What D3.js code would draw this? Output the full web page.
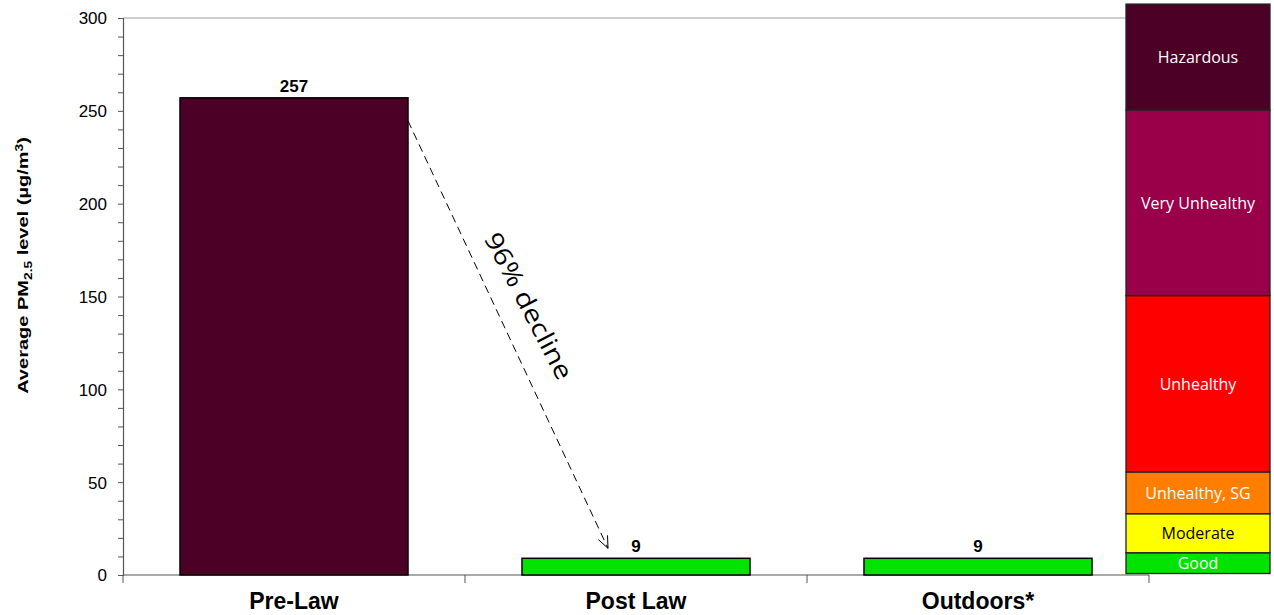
<!DOCTYPE html>
<html><head><meta charset="utf-8">
<script src="https://cdn.jsdelivr.net/npm/d3@7"></script>
<style>body{margin:0;background:#fff}svg{display:block}</style>
</head><body>
<svg id="c" width="1274" height="615"></svg>
<script>
const categories = ["Pre-Law", "Post Law", "Outdoors*"];
const values = [257, 9, 9];
const barColors = ["#4c0026", "#00e400", "#00e400"];
const yTicks = [0, 50, 100, 150, 200, 250, 300];
const aqiNames = ["Good", "Moderate", "Unhealthy, SG", "Unhealthy", "Very Unhealthy", "Hazardous"];
const aqiLow = [0.8, 12, 33, 55.5, 150.5, 250.5];
const aqiHigh = [12, 33, 55.5, 150.5, 250.5, 307.5];
const aqiColors = ["#00e400", "#ffff00", "#ff7e00", "#ff0000", "#990049", "#4c0026"];
const aqiText = ["#fff", "#000", "#fff", "#fff", "#fff", "#fff"];
const annotation = "96% decline";

const svg = d3.select("#c");
const pLeft = 123, pRight = 1149, pTop = 18, pBottom = 575;
const x = d3.scaleBand().domain(categories).range([pLeft, pRight]).paddingInner(1/3).paddingOuter(1/6);
const y = d3.scaleLinear().domain([0, 300]).range([pBottom, pTop]);

// top border
svg.append("line").attr("x1", pLeft).attr("x2", 1126).attr("y1", pTop).attr("y2", pTop)
  .attr("stroke", "#a0a0a0").attr("stroke-width", 1.2);

// y axis
const yAxis = svg.append("g").attr("transform", `translate(${pLeft},0)`)
  .call(d3.axisLeft(y).tickValues(d3.range(0, 301, 10)).tickSize(5).tickFormat(d => yTicks.includes(d) ? d : ""));
yAxis.select(".domain").attr("stroke", "#555").attr("stroke-width", 1.2);
yAxis.selectAll(".tick line").attr("stroke", "#555");
yAxis.selectAll("text").attr("font-family", "Liberation Sans, Arial, sans-serif").attr("font-size", 17)
  .attr("fill", "#000").attr("x", -16).attr("dy", "0.35em");

// x axis
const xAxis = svg.append("g").attr("transform", `translate(0,${pBottom})`);
xAxis.append("line").attr("x1", pLeft).attr("x2", pRight).attr("stroke", "#555").attr("stroke-width", 1.2);
const bounds = [0, 1, 2, 3].map(i => pLeft + i * x.step());
xAxis.selectAll(".xt").data(bounds).join("line").attr("class", "xt")
  .attr("x1", d => d).attr("x2", d => d).attr("y1", 0).attr("y2", 8).attr("stroke", "#555");
xAxis.selectAll(".xl").data(categories).join("text").attr("class", "xl")
  .attr("x", d => x(d) + x.bandwidth() / 2).attr("y", 34).attr("text-anchor", "middle")
  .attr("font-family", "Liberation Sans, Arial, sans-serif").attr("font-weight", "bold").attr("font-size", 23)
  .text(d => d);

// bars
svg.selectAll(".bar").data(values).join("rect").attr("class", "bar")
  .attr("x", (d, i) => x(categories[i])).attr("width", x.bandwidth())
  .attr("y", d => y(d)).attr("height", d => y(0) - y(d))
  .attr("fill", (d, i) => barColors[i]).attr("stroke", "#000").attr("stroke-width", 1.5);
svg.selectAll(".bl").data(values).join("text").attr("class", "bl")
  .attr("x", (d, i) => x(categories[i]) + x.bandwidth() / 2).attr("y", d => y(d) - 6)
  .attr("text-anchor", "middle").attr("font-family", "Liberation Sans, Arial, sans-serif")
  .attr("font-weight", "bold").attr("font-size", 17).text(d => d);

// y label (stretched along its length like the reference)
svg.append("text").attr("transform", `translate(28,265.5) rotate(-90) scale(1.38,1)`)
  .attr("text-anchor", "middle").attr("font-family", "Liberation Sans, Arial, sans-serif")
  .attr("font-weight", "bold").attr("font-size", 14.5)
  .call(t => {
    t.append("tspan").text("Average PM");
    t.append("tspan").attr("font-size", 10).attr("dy", 4).text("2.5");
    t.append("tspan").attr("dy", -4).text(" level (µg/m");
    t.append("tspan").attr("font-size", 10).attr("dy", -5).text("3");
    t.append("tspan").attr("dy", 5).text(")");
  });

// AQI legend
const lx = 1126, lw = 144;
const lg = svg.append("g");
lg.selectAll("rect").data(aqiNames).join("rect")
  .attr("x", lx).attr("width", lw)
  .attr("y", (d, i) => y(aqiHigh[i])).attr("height", (d, i) => y(aqiLow[i]) - y(aqiHigh[i]))
  .attr("fill", (d, i) => aqiColors[i]).attr("stroke", "#222").attr("stroke-width", 1.3);
lg.selectAll("text").data(aqiNames).join("text")
  .attr("x", lx + lw / 2).attr("y", (d, i) => (y(aqiLow[i]) + y(aqiHigh[i])) / 2 + 6)
  .attr("text-anchor", "middle").attr("font-family", "Open Sans, sans-serif").attr("font-size", 16)
  .attr("fill", (d, i) => aqiText[i]).text(d => d);

// annotation arrow
const x0 = x(categories[0]) + x.bandwidth(), y0 = y(values[0]) + 23;
const x1 = x(categories[1]) + 86, y1 = y(values[1]) - 10;
svg.append("line").attr("x1", x0).attr("y1", y0).attr("x2", x1).attr("y2", y1)
  .attr("stroke", "#000").attr("stroke-width", 1).attr("stroke-dasharray", "8,5");
const ang = Math.atan2(y1 - y0, x1 - x0);
const ah = 13;
[-0.4, 0.4].forEach(a => {
  svg.append("line").attr("x1", x1).attr("y1", y1)
    .attr("x2", x1 - ah * Math.cos(ang + a)).attr("y2", y1 - ah * Math.sin(ang + a))
    .attr("stroke", "#000").attr("stroke-width", 1);
});
svg.append("text").attr("transform", `translate(521,310) rotate(62.5)`)
  .attr("text-anchor", "middle").attr("font-family", "Open Sans, sans-serif")
  .attr("font-size", 25).attr("textLength", 162).attr("lengthAdjust", "spacingAndGlyphs").text(annotation);
</script>
</body></html>
